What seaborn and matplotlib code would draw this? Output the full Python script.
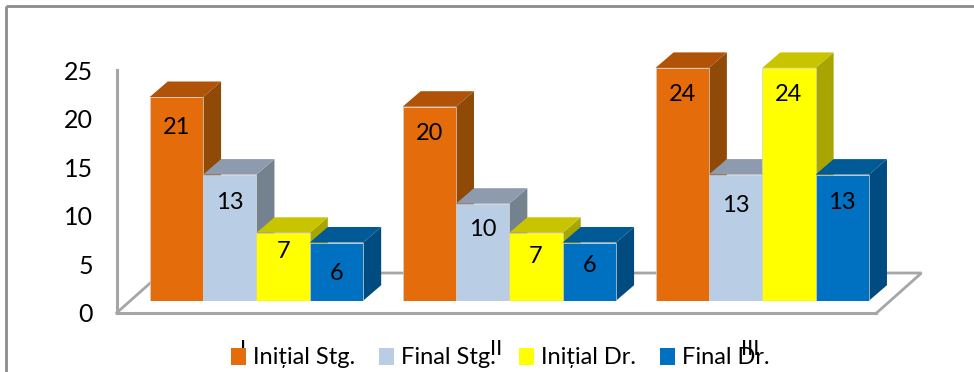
import matplotlib
matplotlib.use("Agg")
import matplotlib.pyplot as plt
from matplotlib.lines import Line2D
from matplotlib.patches import Patch, Polygon
import pandas as pd
import seaborn as sns

# Survey values per group and series
groups = ["I", "II", "III"]
series_names = ["Inițial Stg.", "Final Stg.", "Inițial Dr.", "Final Dr."]
initial_left = [21, 20, 24]
final_left = [13, 10, 13]
initial_right = [7, 7, 24]
final_right = [6, 6, 13]
y_ticks = [0, 5, 10, 15, 20, 25]

# Front, top and side shades of each series
front_colors = ["#E46C0A", "#B9CDE5", "#FFFF00", "#0070C0"]
top_colors = ["#B05208", "#8E9BAE", "#C8C400", "#005A96"]
side_colors = ["#8F4A08", "#748290", "#A8A500", "#004B80"]

W, H = 974, 372
PX_PT = 72 / 100

sns.set_theme(style="white")
plt.rcParams["font.family"] = ["Lato", "Noto Sans", "DejaVu Sans"]

table = pd.DataFrame({
    "group": groups * 4,
    "series": [n for n in series_names for _ in groups],
    "value": initial_left + final_left + initial_right + final_right,
})

fig = plt.figure(figsize=(W / 100, H / 100), dpi=100, facecolor="white")


def px_axes(left, top, right, bottom):
    return fig.add_axes([left / W, 1 - bottom / H, (right - left) / W, (bottom - top) / H])


# Outer frame
frame_kw = dict(color="#8C8C8C", lw=2.0, transform=fig.transFigure, solid_capstyle="butt")
fig.add_artist(Line2D([5.5 / W, 5.5 / W], [0, 1 - 5.5 / H], **frame_kw))
fig.add_artist(Line2D([5.5 / W, 1], [1 - 5.5 / H, 1 - 5.5 / H], **frame_kw))

# Axis plane: wall line, floor outline and tick labels
axis_ax = px_axes(116.5, 70, 876.5, 313)
axis_ax.set_xlim(-0.5, 2.5)
axis_ax.set_ylim(0, 25)
axis_ax.set_yticks(y_ticks)
axis_ax.set_xticks(range(len(groups)), groups)
axis_ax.tick_params(axis="y", length=0, pad=17, labelsize=18, labelcolor="black")
axis_ax.tick_params(axis="x", length=0, pad=19, labelsize=16, labelcolor="black")
axis_ax.patch.set_visible(False)
for name, spine in axis_ax.spines.items():
    spine.set_visible(name in ("left", "bottom"))
    spine.set_color("#A6A6A6")
    spine.set_linewidth(2.2)
floor_dx = 45 / (760 / 3)
floor_dy = 40 / (243 / 25)
axis_ax.add_line(Line2D(
    [-0.5, -0.5 + floor_dx, 2.5 + floor_dx, 2.5],
    [0, floor_dy, floor_dy, 0],
    color="#A6A6A6", lw=2.0, clip_on=False, solid_joinstyle="miter",
))

# Bars sit on a plane slightly above and right of the axis corner
bar_ax = px_axes(130, 300.7 - 9.7 * 25, 888.7, 300.7)
bar_ax.patch.set_visible(False)
sns.barplot(
    data=table, x="group", y="value", hue="series", order=groups,
    hue_order=series_names, palette=front_colors, width=0.844, gap=0,
    saturation=1, legend=False, ax=bar_ax,
)
bar_ax.set_xlim(-0.5, 2.5)
bar_ax.set_ylim(0, 25)
bar_ax.set_axis_off()

depth_x = 18 / (758.7 / 3)
depth_y = 15.5 / 9.7

# Per-label distance below each bar top, in pixels
label_drop = [
    [31, 27, 27],
    [28, 26, 31],
    [19, 24, 27],
    [31, 23, 28],
]

for i, container in enumerate(bar_ax.containers):
    for j, bar in enumerate(container.patches):
        x0 = bar.get_x()
        x1 = x0 + bar.get_width()
        h = bar.get_height()
        z = 3 + i
        bar.set_zorder(z + 0.2)
        bar.set_edgecolor("#D0D0D0")
        bar.set_linewidth(0.5)
        bar_ax.add_patch(Polygon(
            [(x1, 0), (x1 + depth_x, depth_y), (x1 + depth_x, h + depth_y), (x1, h)],
            closed=True, facecolor=side_colors[i], edgecolor="none",
            zorder=z, clip_on=False,
        ))
        bar_ax.add_patch(Polygon(
            [(x0, h), (x0 + depth_x, h + depth_y), (x1 + depth_x, h + depth_y), (x1, h)],
            closed=True, facecolor=top_colors[i], edgecolor="none",
            zorder=z + 0.1, clip_on=False,
        ))
        bar_ax.annotate(
            f"{h:.0f}", xy=((x0 + x1) / 2, h),
            xytext=(0, -label_drop[i][j] * PX_PT), textcoords="offset points",
            ha="center", va="center", fontsize=17, color="black", zorder=20,
        )

handles = [Patch(facecolor=c, edgecolor="none") for c in front_colors]
fig.legend(
    handles, series_names, loc="center", bbox_to_anchor=(500 / W, 1 - 358 / H),
    ncol=4, frameon=False, fontsize=17, handlelength=0.64, handleheight=0.72,
    handletextpad=0.29, columnspacing=1.0, borderpad=0, labelcolor="black",
)

fig.savefig("out.png", dpi=100)
